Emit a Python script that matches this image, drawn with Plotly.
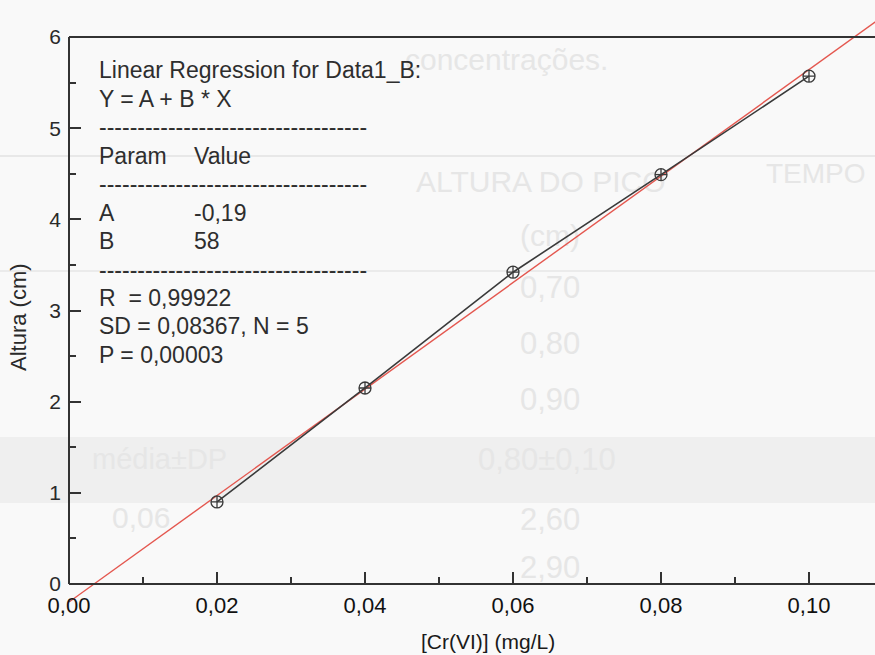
import numpy as np
import plotly.graph_objects as go

# ---------------- data ----------------
conc = [0.02, 0.04, 0.06, 0.08, 0.10]          # [Cr(VI)] (mg/L)
altura = [0.90, 2.15, 3.42, 4.49, 5.57]        # Altura (cm)

x_tickvals = [0.00, 0.02, 0.04, 0.06, 0.08, 0.10]
x_ticktext = ["0,00", "0,02", "0,04", "0,06", "0,08", "0,10"]
x_minorvals = [0.01, 0.03, 0.05, 0.07, 0.09]
y_tickvals = [0, 1, 2, 3, 4, 5, 6]
y_ticktext = ["0", "1", "2", "3", "4", "5", "6"]
y_minorvals = [0.5, 1.5, 2.5, 3.5, 4.5, 5.5]

fit_x = [0.0, 0.11]

reg_col1 = ["Linear Regression for Data1_B:", "Y = A + B * X", "-" * 35,
            "Param", "-" * 35, "A", "B", "-" * 35,
            "R  = 0,99922", "SD = 0,08367, N = 5", "P = 0,00003"]
reg_col2 = ["", "", "", "Value", "", "-0,19", "58", "", "", "", ""]

# faint bleed-through text of the scanned page (text, left px, centre px, size)
ghost_text = ["concentrações.", "ALTURA DO PICO", "TEMPO", "(cm)",
              "0,70", "0,80", "0,90", "média±DP", "0,80±0,10",
              "0,06", "2,60", "2,90"]
ghost_x = [405, 416, 766, 520, 520, 520, 520, 92, 478, 112, 520, 520]
ghost_y = [62, 184, 176, 238, 290, 346, 402, 462, 462, 520, 522, 570]
ghost_size = [30, 30, 28, 30, 31, 31, 31, 29, 31, 30, 31, 31]

# ---------------- layout constants ----------------
W, H = 875, 655
LEFT_PX = 69          # pixel of x = 0
PX_PER_X = 7400.0     # 148 px per 0.02
Y0_PX, Y6_PX = 584, 37
PX_PER_Y = (Y0_PX - Y6_PX) / 6.0
BOTTOM_PX = 612       # bottom of main plot area

x_max = (W - LEFT_PX) / PX_PER_X
y_max = 6 + Y6_PX / PX_PER_Y
y_min = -(BOTTOM_PX - Y0_PX) / PX_PER_Y

AX = "#333333"
FONT = "Liberation Sans, Arial, sans-serif"

B, A = np.polyfit(conc, altura, 1)
fit_y = [A + B * v for v in fit_x]

fig = go.Figure()

# ghost (background) subplot in pixel coordinates, drawn first
fig.add_trace(go.Scatter(
    x=ghost_x, y=ghost_y, mode="text", text=ghost_text,
    textposition="middle right",
    textfont=dict(family=FONT, size=ghost_size, color="#e6e6e6"),
    hoverinfo="skip", showlegend=False, xaxis="x", yaxis="y", cliponaxis=False))

# main data
fig.add_trace(go.Scatter(
    x=fit_x, y=fit_y, mode="lines",
    line=dict(color="#e4574f", width=1.4),
    showlegend=False, xaxis="x2", yaxis="y2"))
fig.add_trace(go.Scatter(
    x=conc, y=altura, mode="lines+markers",
    line=dict(color="#3a3a3a", width=1.6),
    marker=dict(symbol="circle-cross-open", size=12, color="#3a3a3a",
                line=dict(width=1.3, color="#3a3a3a")),
    showlegend=False, xaxis="x2", yaxis="y2"))

shapes = [
    # faint gray band of the scanned table
    dict(type="rect", xref="paper", yref="paper", x0=0, x1=1,
         y0=1 - 503 / H, y1=1 - 437 / H, fillcolor="#efefef",
         line=dict(width=0), layer="below"),
    dict(type="line", xref="paper", yref="paper", x0=0, x1=1,
         y0=1 - 156 / H, y1=1 - 156 / H, line=dict(color="#e8e8e8", width=2), layer="below"),
    dict(type="line", xref="paper", yref="paper", x0=0, x1=1,
         y0=1 - 271 / H, y1=1 - 271 / H, line=dict(color="#ebebeb", width=2), layer="below"),
    # frame lines
    dict(type="line", xref="x2", yref="y2", x0=0, x1=x_max, y0=0, y1=0,
         line=dict(color=AX, width=2)),
    dict(type="line", xref="x2", yref="y2", x0=0, x1=x_max, y0=6, y1=6,
         line=dict(color=AX, width=2)),
    dict(type="line", xref="paper", yref="y2", x0=LEFT_PX / W, x1=LEFT_PX / W,
         y0=0, y1=6, line=dict(color=AX, width=2)),
]

annotations = []
line_h = 28.5
for i, (t1, t2) in enumerate(zip(reg_col1, reg_col2)):
    ypx = 70 + i * line_h
    if t1:
        annotations.append(dict(text=t1, xref="paper", yref="paper",
                                x=97 / W, y=1 - ypx / H, xanchor="left", yanchor="middle",
                                showarrow=False, font=dict(family=FONT, size=23, color="#2e2e2e")))
    if t2:
        annotations.append(dict(text=t2, xref="paper", yref="paper",
                                x=192 / W, y=1 - ypx / H, xanchor="left", yanchor="middle",
                                showarrow=False, font=dict(family=FONT, size=23, color="#2e2e2e")))

annotations.append(dict(text="[Cr(VI)] (mg/L)", xref="paper", yref="paper",
                        x=488 / W, y=1 - 641 / H, xanchor="center", yanchor="middle",
                        showarrow=False, font=dict(family=FONT, size=21, color="#1a1a1a")))
annotations.append(dict(text="Altura (cm)", xref="paper", yref="paper",
                        x=19 / W, y=1 - 317 / H, xanchor="center", yanchor="middle",
                        textangle=-90, showarrow=False,
                        font=dict(family=FONT, size=22, color="#2a2a2a")))

fig.update_layout(
    width=W, height=H,
    margin=dict(l=0, r=0, t=0, b=0, autoexpand=False),
    paper_bgcolor="#f9f9f9", plot_bgcolor="rgba(0,0,0,0)",
    showlegend=False,
    xaxis=dict(domain=[0, 1], range=[0, W], visible=False, fixedrange=True,
               automargin=False),
    yaxis=dict(domain=[0, 1], range=[H, 0], visible=False, fixedrange=True,
               automargin=False),
    xaxis2=dict(domain=[LEFT_PX / W, 1], range=[0, x_max], anchor="free",
                position=1 - Y0_PX / H, automargin=False,
                showline=False, showgrid=False, zeroline=False,
                tickmode="array", tickvals=x_tickvals, ticktext=x_ticktext,
                ticks="inside", ticklen=12, tickwidth=2, tickcolor=AX,
                minor=dict(tickmode="array", tickvals=x_minorvals, ticks="inside",
                           ticklen=7, tickwidth=2, tickcolor=AX, showgrid=False),
                tickfont=dict(family=FONT, size=22, color="#111111"),
                ticklabelstandoff=6),
    yaxis2=dict(domain=[1 - BOTTOM_PX / H, 1], range=[y_min, y_max], anchor="x2",
                automargin=False,
                showline=False, showgrid=False, zeroline=False,
                tickmode="array", tickvals=y_tickvals, ticktext=y_ticktext,
                ticks="inside", ticklen=12, tickwidth=2, tickcolor=AX,
                minor=dict(tickmode="array", tickvals=y_minorvals, ticks="inside",
                           ticklen=7, tickwidth=2, tickcolor=AX, showgrid=False),
                tickfont=dict(family=FONT, size=21, color="#2a2a2a"),
                ticklabelstandoff=7),
    shapes=shapes,
    annotations=annotations,
)

fig.write_html("out.html")
